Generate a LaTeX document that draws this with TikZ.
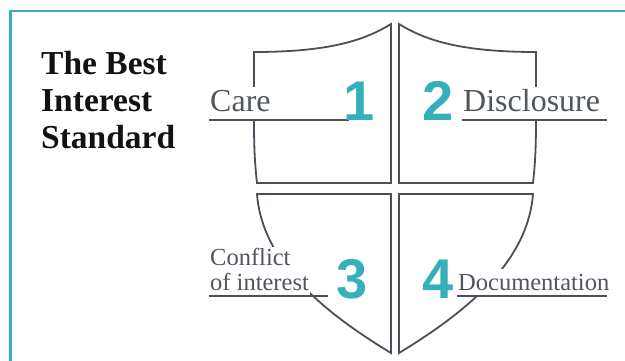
\documentclass[tikz,border=0pt]{standalone}
\usepackage{fontspec}
\setmainfont{Liberation Serif}
\newfontfamily\digitfont{Liberation Sans}
\definecolor{frameteal}{HTML}{35AFBA}
\definecolor{shieldgray}{HTML}{4A4F59}
\definecolor{labelgray}{HTML}{50555F}
\begin{document}
\begin{tikzpicture}[x=1pt,y=-1pt,
  shieldline/.style={draw=shieldgray, line width=1.8pt, line join=miter},
  uline/.style={draw=shieldgray, line width=1.5pt},
  biglabel/.style={fill=white, text=labelgray, inner xsep=1pt, inner ysep=0pt,
    anchor=base west, font=\fontsize{32}{32}\selectfont},
  smalllabel/.style={fill=white, text=labelgray, inner xsep=1pt, inner ysep=0pt,
    anchor=base west, font=\fontsize{24.5}{24}\selectfont},
  digit/.style={text=frameteal, inner sep=0pt, anchor=base,
    font=\digitfont\bfseries\fontsize{56}{56}\selectfont},
  title/.style={inner sep=0pt, anchor=base west, text=black!93,
    font=\bfseries\fontsize{33.5}{37}\selectfont}]
\useasboundingbox (0,0) rectangle (625,360);

% frame
\draw[frameteal, line width=2.6pt, line join=miter] (10.5,362) -- (10.5,11) -- (627,11);

% title
\node[title] (title) at (41,74) {\begin{tabular}[t]{@{}l@{}}The Best\\Interest\\Standard\end{tabular}};

% shield quarters
\draw[shieldline] (391,183) -- (257,183) .. controls (255,165) and (254,150) .. (254,120)
  -- (254,52) .. controls (330,52) and (365,40) .. (391,24) -- cycle;
\draw[shieldline] (399,183) -- (533,183) .. controls (535,165) and (536,150) .. (536,120)
  -- (536,52) .. controls (460,52) and (425,40) .. (399,24) -- cycle;
\draw[shieldline] (257,194) -- (391,194) -- (391,353)
  .. controls (320,310) and (262,260) .. (257,194) -- cycle;
\draw[shieldline] (533,194) -- (399,194) -- (399,353)
  .. controls (470,310) and (528,260) .. (533,194) -- cycle;

% labels
\node[biglabel, text height=24pt, text depth=9pt] (care) at (209,111) {Care};
\node[biglabel, text height=24pt, text depth=9pt] (disc) at (462,111) {Disclosure};
\node[smalllabel, text height=43pt, text depth=6pt] (coi) at (209,290)
  {\begin{tabular}[b]{@{}l@{}}Conflict\\of interest\end{tabular}};
\node[smalllabel, text height=21pt, text depth=6pt] (doc) at (457,290) {Documentation};

% underlines
\draw[uline] (care.south west) -- ++(140,0) coordinate (careend);
\draw[uline] (disc.south west) -- ++(145,0) coordinate (discend);
\draw[uline] (coi.south west) -- ++(119,0) coordinate (coiend);
\draw[uline] (doc.south west) -- ++(150,0) coordinate (docend);

% numbers
\node[digit] (n1) at (359,120) {1};
\node[digit] (n2) at (438,120) {2};
\node[digit] (n3) at (352,298) {3};
\node[digit] (n4) at (438,298) {4};
\end{tikzpicture}
\end{document}
